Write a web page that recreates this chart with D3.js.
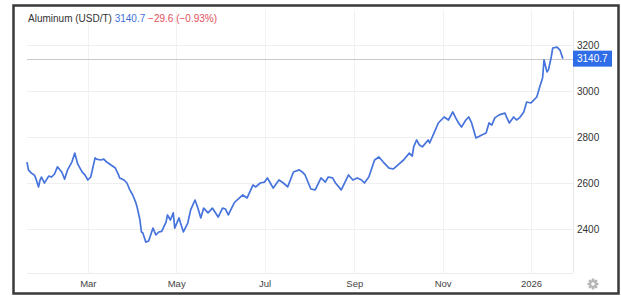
<!DOCTYPE html>
<html>
<head>
<meta charset="utf-8">
<script src="https://cdn.jsdelivr.net/npm/d3@7"></script>
<style>
  html, body { margin: 0; padding: 0; background: #fff; }
  #chart_aluminio { width: 621px; height: 298px; }
  text { font-family: "Liberation Sans", Arial, sans-serif; }
</style>
</head>
<body>
<div id="chart_aluminio"></div>
<script>
// Datos (USD/T)
var fechas = [
  "2025-01-18","2025-01-19","2025-01-21","2025-01-23","2025-01-24","2025-01-26","2025-01-27","2025-01-28","2025-01-30",
  "2025-02-02","2025-02-04","2025-02-06","2025-02-08","2025-02-11","2025-02-13","2025-02-15","2025-02-18","2025-02-20",
  "2025-02-22","2025-02-25","2025-02-27","2025-03-01","2025-03-03","2025-03-06","2025-03-07","2025-03-10","2025-03-12",
  "2025-03-14","2025-03-15","2025-03-18","2025-03-20","2025-03-22","2025-03-23","2025-03-26","2025-03-28","2025-03-30",
  "2025-04-01","2025-04-03","2025-04-04","2025-04-06","2025-04-07","2025-04-08","2025-04-10","2025-04-12","2025-04-15",
  "2025-04-17","2025-04-19","2025-04-21","2025-04-24","2025-04-25","2025-04-27","2025-04-29","2025-04-30","2025-05-03",
  "2025-05-04","2025-05-06","2025-05-09","2025-05-11","2025-05-14","2025-05-16","2025-05-18","2025-05-20","2025-05-23",
  "2025-05-26","2025-05-30","2025-06-02","2025-06-04","2025-06-06","2025-06-10","2025-06-12","2025-06-16","2025-06-19",
  "2025-06-23","2025-06-25","2025-06-28","2025-07-01","2025-07-03","2025-07-05","2025-07-07","2025-07-11","2025-07-14",
  "2025-07-17","2025-07-21","2025-07-25","2025-07-27","2025-07-29","2025-08-02","2025-08-05","2025-08-09","2025-08-12",
  "2025-08-14","2025-08-17","2025-08-19","2025-08-23","2025-08-28","2025-08-31","2025-09-03","2025-09-06","2025-09-08",
  "2025-09-11","2025-09-15","2025-09-18","2025-09-21","2025-09-25","2025-09-28","2025-10-01","2025-10-05","2025-10-09",
  "2025-10-11","2025-10-12","2025-10-14","2025-10-16","2025-10-18","2025-10-22","2025-10-23","2025-10-26","2025-10-29",
  "2025-10-31","2025-11-02","2025-11-05","2025-11-08","2025-11-10","2025-11-12","2025-11-14","2025-11-17","2025-11-19",
  "2025-11-21","2025-11-24","2025-11-28","2025-12-01","2025-12-03","2025-12-05","2025-12-07","2025-12-10","2025-12-14",
  "2025-12-16","2025-12-17","2025-12-20","2025-12-22","2025-12-24","2025-12-27","2025-12-29","2026-01-01","2026-01-05",
  "2026-01-07","2026-01-09","2026-01-10","2026-01-12","2026-01-13","2026-01-15","2026-01-16","2026-01-19","2026-01-21",
  "2026-01-23"
];
var precios = [
  2691,2657,2643,2635,2622,2583,2613,2626,2600,
  2630,2626,2639,2670,2648,2617,2657,2691,2730,
  2683,2648,2635,2613,2626,2709,2704,2700,2704,
  2691,2687,2674,2665,2639,2622,2613,2600,2570,
  2548,2517,2496,2439,2387,2383,2343,2348,2404,
  2374,2387,2390,2430,2461,2439,2470,2404,2448,
  2426,2387,2426,2483,2526,2491,2448,2491,2470,
  2491,2452,2491,2487,2461,2513,2526,2548,2535,
  2591,2583,2600,2604,2622,2600,2578,2613,2600,
  2583,2648,2657,2648,2635,2574,2570,2622,2604,
  2626,2622,2600,2570,2635,2613,2622,2613,2600,
  2626,2700,2713,2691,2665,2661,2678,2700,2730,
  2717,2757,2787,2765,2757,2787,2774,2817,2861,
  2874,2887,2874,2909,2883,2861,2843,2874,2887,
  2861,2796,2809,2817,2861,2852,2883,2896,2904,
  2874,2861,2887,2874,2883,2909,2952,2948,2974,
  3017,3057,3135,3083,3091,3148,3187,3191,3178,
  3140.7
];
var ticks_y = [2400, 2600, 2800, 3000, 3200];
var ticks_x = ["2025-03-01","2025-05-01","2025-07-01","2025-09-01","2025-11-01","2026-01-01"];
var etiquetas_x = ["Mar","May","Jul","Sep","Nov","2026"];
var rango_fechas = ["2025-01-18","2026-01-30"];
var ultimo = 3140.7;
var cambio = -29.6;
var cambio_pct = -0.93;

var parseFecha = d3.timeParse("%Y-%m-%d");
var datos = fechas.map(function(f, i) { return {fecha: parseFecha(f), valor: precios[i]}; });

function grafico_aluminio(container, props) {
    // Margenes del area de dibujo (dentro del marco)
    var margin = {top: 10, right: 48, bottom: 25, left: 27};
    var width = props.width - margin.left - margin.right;
    var height = props.height - margin.top - margin.bottom;

    container.select("svg").remove();

    var svg = container.append("svg")
        .attr("width", props.width)
        .attr("height", props.height);

    // Marco exterior
    svg.append("rect")
        .attr("x", 13.5)
        .attr("y", 5.5)
        .attr("width", 605)
        .attr("height", 288)
        .attr("fill", "white")
        .attr("stroke", "#3a3a3a")
        .attr("stroke-width", 2.5);

    var g = svg.append("g")
        .attr("transform", "translate(" + margin.left + "," + margin.top + ")");

    // Escalas
    var xScale = d3.scaleTime()
        .domain(rango_fechas.map(parseFecha))
        .range([0, width]);
    var yScale = d3.scaleLinear()
        .domain([2400, 3200])
        .range([219, 35]);

    // Rejilla horizontal
    g.selectAll(".grid-y")
        .data(ticks_y)
        .enter().append("line")
        .attr("class", "grid-y")
        .attr("x1", 0)
        .attr("x2", width)
        .attr("y1", function(d) { return Math.round(yScale(d)) + 0.5; })
        .attr("y2", function(d) { return Math.round(yScale(d)) + 0.5; })
        .attr("stroke", "#efefef")
        .attr("stroke-width", 1);

    // Rejilla vertical
    g.selectAll(".grid-x")
        .data(ticks_x)
        .enter().append("line")
        .attr("class", "grid-x")
        .attr("x1", function(d) { return Math.round(xScale(parseFecha(d))) + 0.5; })
        .attr("x2", function(d) { return Math.round(xScale(parseFecha(d))) + 0.5; })
        .attr("y1", 0)
        .attr("y2", height)
        .attr("stroke", "#f2f2f2")
        .attr("stroke-width", 1);

    // Borde derecho y base del area
    g.append("line")
        .attr("x1", width + 0.5).attr("x2", width + 0.5)
        .attr("y1", 0).attr("y2", height)
        .attr("stroke", "#e8e8e8");
    g.append("line")
        .attr("x1", 0).attr("x2", width)
        .attr("y1", height + 0.5).attr("y2", height + 0.5)
        .attr("stroke", "#ececec");

    // Linea del ultimo precio
    g.append("line")
        .attr("x1", 0)
        .attr("x2", width)
        .attr("y1", Math.round(yScale(ultimo)) + 0.5)
        .attr("y2", Math.round(yScale(ultimo)) + 0.5)
        .attr("stroke", "#c8c8c8")
        .attr("stroke-width", 1);

    // Eje Y (a la derecha)
    var yAxis = d3.axisRight(yScale)
        .tickValues(ticks_y)
        .tickFormat(d3.format("d"))
        .tickSize(0)
        .tickPadding(4);
    var yAxisG = g.append("g")
        .attr("class", "y-axis")
        .attr("transform", "translate(" + width + ",0)")
        .call(yAxis);
    yAxisG.select(".domain").remove();
    yAxisG.selectAll("text")
        .attr("fill", "#333")
        .style("font-size", "10px");

    // Eje X
    var xAxis = d3.axisBottom(xScale)
        .tickValues(ticks_x.map(parseFecha))
        .tickFormat(function(d, i) { return etiquetas_x[i]; })
        .tickSize(0)
        .tickPadding(7);
    var xAxisG = g.append("g")
        .attr("class", "x-axis")
        .attr("transform", "translate(0," + height + ")")
        .call(xAxis);
    xAxisG.select(".domain").remove();
    xAxisG.selectAll("text")
        .attr("fill", "#444")
        .style("font-size", "9.5px");

    // Linea de precios
    var linea = d3.line()
        .x(function(d) { return xScale(d.fecha); })
        .y(function(d) { return yScale(d.valor); });
    g.append("path")
        .datum(datos)
        .attr("fill", "none")
        .attr("stroke", "#4673dc")
        .attr("stroke-width", 1.7)
        .attr("stroke-linejoin", "round")
        .attr("d", linea);

    // Etiqueta azul del ultimo precio
    var yUlt = yScale(ultimo);
    g.append("rect")
        .attr("x", width)
        .attr("y", yUlt - 8)
        .attr("width", 39)
        .attr("height", 16)
        .attr("fill", "#2f6de8");
    g.append("text")
        .attr("x", width + 4)
        .attr("y", yUlt + 3.5)
        .attr("fill", "white")
        .style("font-size", "10px")
        .text(d3.format(".1f")(ultimo));

    // Titulo
    var titulo = svg.append("text")
        .attr("x", 28)
        .attr("y", 22)
        .style("font-size", "10px");
    titulo.append("tspan").attr("fill", "#333").text("Aluminum (USD/T) ");
    titulo.append("tspan").attr("fill", "#3f6fd6").text(d3.format(".1f")(ultimo) + " ");
    titulo.append("tspan").attr("fill", "#e0505a")
        .text(d3.format(".1f")(cambio) + " (" + d3.format(".2f")(cambio_pct) + "%)");

    // Icono de ajustes (engranaje)
    var gear = svg.append("g")
        .attr("transform", "translate(593,284)");
    gear.selectAll("rect")
        .data(d3.range(4))
        .enter().append("rect")
        .attr("x", -1.2).attr("y", -5.5)
        .attr("width", 2.4).attr("height", 11)
        .attr("fill", "#b5b5b5")
        .attr("transform", function(d) { return "rotate(" + d * 45 + ")"; });
    gear.append("circle").attr("r", 3.8).attr("fill", "#b5b5b5");
    gear.append("circle").attr("r", 1.8).attr("fill", "white");
}

function render_aluminio() {
    grafico_aluminio(d3.select("#chart_aluminio"), {width: 621, height: 298});
}

render_aluminio();
</script>
</body>
</html>
